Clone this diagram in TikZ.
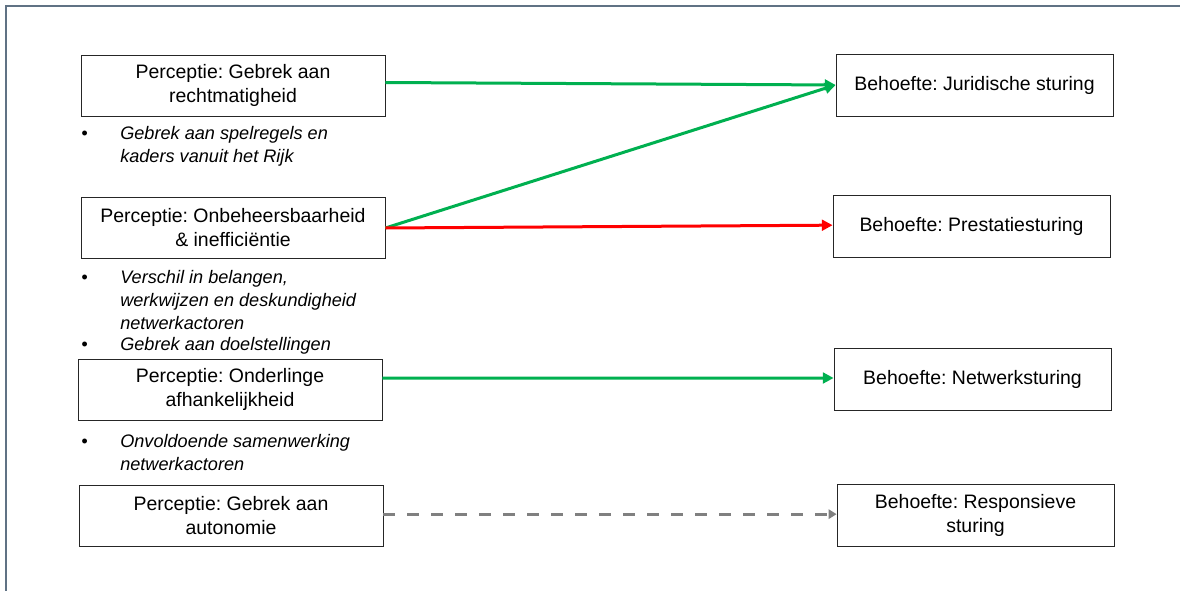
\documentclass[tikz,border=0pt]{standalone}
\usepackage{fontspec}
\setmainfont{Liberation Sans}
\usetikzlibrary{arrows.meta}

\definecolor{pijlgroen}{RGB}{0,176,80}
\definecolor{pijlrood}{RGB}{255,0,0}
\definecolor{pijlgrijs}{RGB}{128,128,128}
\definecolor{kaderlijn}{RGB}{96,114,132}

\newcommand{\opsompunt}{\llap{\makebox[29.25pt][l]{\textbullet}}}

\tikzset{
  perceptie/.style={draw=black!85, line width=0.6pt, minimum width=228pt, minimum height=45.75pt,
    align=center, inner sep=2pt, font=\fontsize{14.6}{18}\selectfont\frenchspacing},
  behoefte/.style={perceptie, minimum width=207.75pt, minimum height=46.5pt},
  opsomming/.style={anchor=north west, align=left, inner sep=0pt,
    font=\fontsize{13.6}{17.3}\selectfont\itshape},
  pijl/.style={line width=2.25pt, -{Triangle[length=8pt,width=8pt]}},
}

\begin{document}
\begin{tikzpicture}[x=0.75pt,y=-0.75pt]
  \useasboundingbox (0,0) rectangle (1180,591);
  % kader van de dia
  \draw[kaderlijn, line width=1.1pt] (6,591) -- (6,6) -- (1180,6);

  % perceptie
  \node[perceptie] (p1) at (233,85.5) {Perceptie: Gebrek aan\\rechtmatigheid};
  \node[perceptie] (p2) at (233,228) {Perceptie: Onbeheersbaarheid\\\& inefficiëntie};
  \node[perceptie] (p3) at (230,389.5) {Perceptie: Onderlinge\\afhankelijkheid};
  \node[perceptie] (p4) at (231,515.5) {Perceptie: Gebrek aan\\autonomie};

  % behoefte
  \node[behoefte] (b1) at (974.5,85) {Behoefte: Juridische sturing};
  \node[behoefte] (b2) at (971.5,226.5) {Behoefte: Prestatiesturing};
  \node[behoefte] (b3) at (972.5,379) {Behoefte: Netwerksturing};
  \node[behoefte] (b4) at (975.5,515.5) {Behoefte: Responsieve\\sturing};

  % toelichting
  \node[opsomming] (o1) at (120,126) {\opsompunt Gebrek aan spelregels en\\kaders vanuit het Rijk};
  \node[opsomming] (o2) at (120,270) {\opsompunt Verschil in belangen,\\werkwijzen en deskundigheid\\netwerkactoren};
  \node[opsomming] (o3) at (120,337) {\opsompunt Gebrek aan doelstellingen};
  \node[opsomming] (o4) at (120,434) {\opsompunt Onvoldoende samenwerking\\netwerkactoren};

  % pijlen
  \draw[pijl, pijlgroen] ([yshift=2.25pt]p1.east) -- (b1.west);
  \draw[pijl, pijlgroen] (p2.east) -- (b1.west);
  \draw[pijl, pijlrood] (p2.east) -- ([yshift=1pt]b2.west);
  \draw[pijl, pijlgroen] ([yshift=8.5pt]p3.east) -- ([yshift=0.75pt]b3.west);
  \draw[line width=2.25pt, pijlgrijs, dash pattern=on 9pt off 9pt,
    -{Triangle[length=6pt,width=7pt]}] ([yshift=1pt]p4.east) -- ([yshift=1pt]b4.west);
\end{tikzpicture}
\end{document}
